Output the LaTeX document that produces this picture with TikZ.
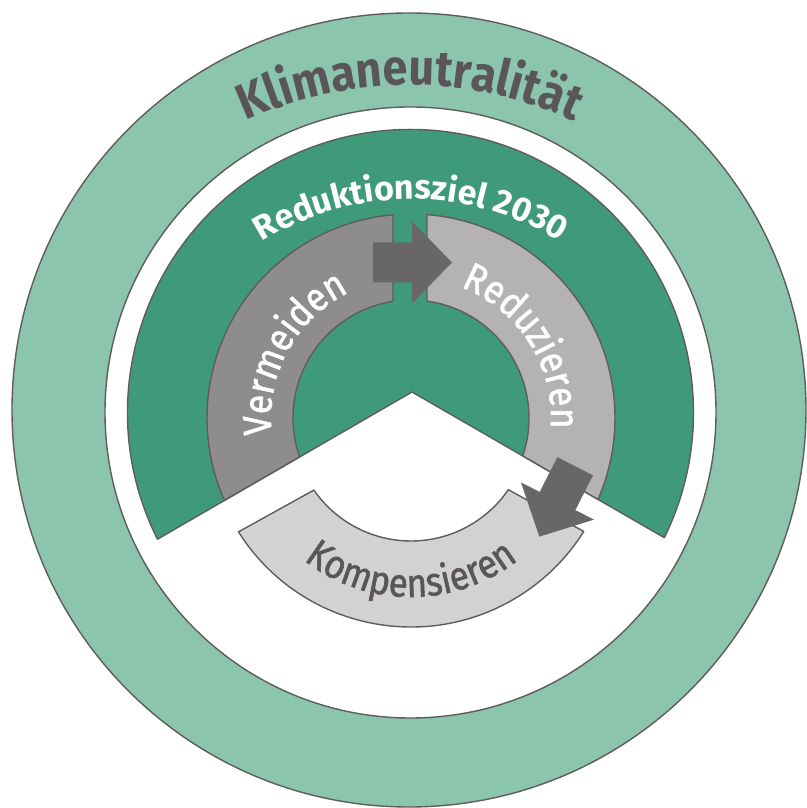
\documentclass[tikz,border=0pt]{standalone}
\usepackage{fontspec}
\setmainfont{Fira Sans}
\newfontfamily\ringfam[FakeStretch=0.88,FakeBold=1.3]{Fira Sans}
\newfontfamily\klimafam[FakeStretch=0.9]{Fira Sans}
\usetikzlibrary{calc,decorations.text}
\definecolor{lgreen}{HTML}{8BC5AE}
\definecolor{dgreen}{HTML}{3F9A79}
\definecolor{ringdark}{HTML}{8E8C8D}
\definecolor{ringlight}{HTML}{B5B2B3}
\definecolor{kompfill}{HTML}{D3D2D2}
\definecolor{edgegray}{HTML}{5E5C5D}
\definecolor{arrowgray}{HTML}{686667}
\definecolor{titlegray}{HTML}{5A5558}
\newcommand\klimafont{\klimafam\fontsize{50}{50}\selectfont\bfseries\color{titlegray}}
\newcommand\zielfont{\fontsize{34}{34}\selectfont\bfseries\color{white}}
\newcommand\ringfont{\ringfam\fontsize{40}{40}\selectfont\color{white}}
\newcommand\kompfont{\ringfam\fontsize{40}{40}\selectfont\color{titlegray}}
\begin{document}
\begin{tikzpicture}[x=1pt,y=1pt,
  edge/.style={draw=edgegray,line width=1.4pt,line join=round},
  fatarrow/.pic={\fill[arrowgray] (-39,-20) -- (0,-20) -- (0,-41) -- (40,0) -- (0,41) -- (0,20) -- (-39,20) -- cycle;}]
\useasboundingbox (0,0) rectangle (806,808);
\coordinate (O) at (410.5,395.5);
\coordinate (G) at (411,390);
\coordinate (K) at (411,385);
\coordinate (A) at (412,416);
% outer ring and white ring
\fill[lgreen,edge] (409,398) circle[radius=397];
\fill[white,edge] (O) circle[radius=305.5];
% dark green sector with V notch
\fill[dgreen,edge] ($(O)+(206.6:283)$) arc[start angle=206.6,end angle=-26.26,radius=283] -- (A) -- cycle;
% Vermeiden segment
\fill[ringdark,edge] ($(G)+(95.06:204)$) arc[start angle=95.06,end angle=203.8,radius=204]
  -- ($(G)+(199.25:118)$) arc[start angle=199.25,end angle=98.77,radius=118] -- cycle;
% Reduzieren segment
\fill[ringlight,edge] ($(G)+(85.5:204)$) arc[start angle=85.5,end angle=-23.53,radius=204]
  -- ($(G)+(-18.74:118)$) arc[start angle=-18.74,end angle=82.2,radius=118] -- cycle;
% Kompensieren segment
\fill[kompfill,edge] ($(K)+(212.26:204)$) arc[start angle=212.26,end angle=327.88,radius=204]
  -- ($(K)+(325.6:118)$) arc[start angle=325.6,end angle=214.64,radius=118] -- cycle;
% arrows
\pic at (412,545.5) {fatarrow};
\pic[rotate=243] at (557.5,307) {fatarrow};
% texts
\path[decorate,decoration={text along path,text align=center,text={|\klimafont|Klimaneutralität}}]
  ($(410,331)+(140:392)$) arc[start angle=140,end angle=40,radius=392];
\path[decorate,decoration={text along path,text align=center,text={|\zielfont|Reduktionsziel 2030}}]
  ($(411,329)+(150:280)$) arc[start angle=150,end angle=30,radius=280];
\path[decorate,decoration={text along path,text align=center,text={|\ringfont|Vermeiden}}]
  ($(G)+(211.5:140)$) arc[start angle=211.5,end angle=91.5,radius=140];
\path[decorate,decoration={text along path,text align=center,text={|\ringfont|Reduzieren}}]
  ($(G)+(92.5:140)$) arc[start angle=92.5,end angle=-27.5,radius=140];
\path[decorate,decoration={text along path,text align=center,text={|\kompfont|Kompensieren}}]
  ($(K)+(200:174)$) arc[start angle=200,end angle=340,radius=174];
\end{tikzpicture}
\end{document}
